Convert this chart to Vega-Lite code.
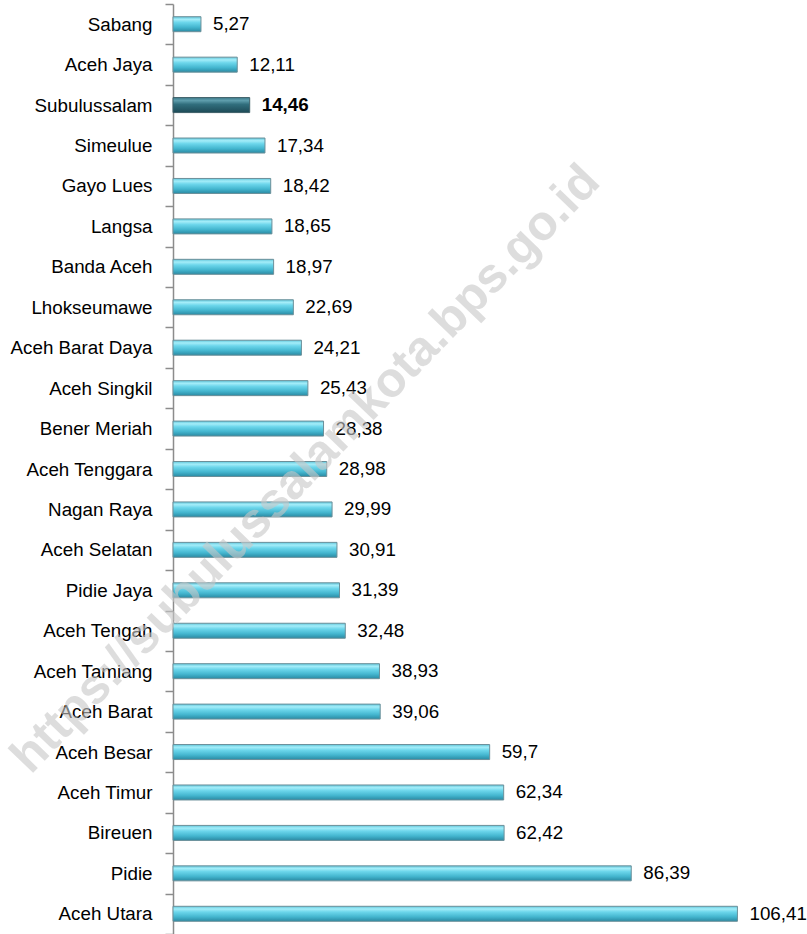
{
  "$schema": "https://vega.github.io/schema/vega-lite/v6.json",
  "width": 610,
  "height": 930,
  "autosize": {"type": "none"},
  "padding": {"left": 173, "top": 4, "right": 24, "bottom": 0},
  "background": "white",
  "config": {
    "view": {"stroke": null},
    "font": "Liberation Sans",
    "locale": {"number": {"decimal": ",", "thousands": ".", "grouping": [3], "currency": ["", ""]}}
  },
  "data": {
    "values": [
      {"wilayah": "Sabang", "nilai": 5.27},
      {"wilayah": "Aceh Jaya", "nilai": 12.11},
      {"wilayah": "Subulussalam", "nilai": 14.46},
      {"wilayah": "Simeulue", "nilai": 17.34},
      {"wilayah": "Gayo Lues", "nilai": 18.42},
      {"wilayah": "Langsa", "nilai": 18.65},
      {"wilayah": "Banda Aceh", "nilai": 18.97},
      {"wilayah": "Lhokseumawe", "nilai": 22.69},
      {"wilayah": "Aceh Barat Daya", "nilai": 24.21},
      {"wilayah": "Aceh Singkil", "nilai": 25.43},
      {"wilayah": "Bener Meriah", "nilai": 28.38},
      {"wilayah": "Aceh Tenggara", "nilai": 28.98},
      {"wilayah": "Nagan Raya", "nilai": 29.99},
      {"wilayah": "Aceh Selatan", "nilai": 30.91},
      {"wilayah": "Pidie Jaya", "nilai": 31.39},
      {"wilayah": "Aceh Tengah", "nilai": 32.48},
      {"wilayah": "Aceh Tamiang", "nilai": 38.93},
      {"wilayah": "Aceh Barat", "nilai": 39.06},
      {"wilayah": "Aceh Besar", "nilai": 59.7},
      {"wilayah": "Aceh Timur", "nilai": 62.34},
      {"wilayah": "Bireuen", "nilai": 62.42},
      {"wilayah": "Pidie", "nilai": 86.39},
      {"wilayah": "Aceh Utara", "nilai": 106.41}
    ]
  },
  "encoding": {
    "y": {
      "field": "wilayah",
      "type": "nominal",
      "sort": ["Sabang", "Aceh Jaya", "Subulussalam", "Simeulue", "Gayo Lues", "Langsa", "Banda Aceh", "Lhokseumawe", "Aceh Barat Daya", "Aceh Singkil", "Bener Meriah", "Aceh Tenggara", "Nagan Raya", "Aceh Selatan", "Pidie Jaya", "Aceh Tengah", "Aceh Tamiang", "Aceh Barat", "Aceh Besar", "Aceh Timur", "Bireuen", "Pidie", "Aceh Utara"],
      "scale": {"paddingInner": 0, "paddingOuter": 0},
      "axis": {
        "title": null,
        "labelFontSize": 18.8,
        "labelFont": "Liberation Sans",
        "labelColor": "#000000",
        "labelPadding": 13,
        "labelLimit": 300,
        "tickSize": 8,
        "tickColor": "#8c8c8c",
        "tickWidth": 1.5,
        "domainColor": "#8c8c8c",
        "domainWidth": 1.5,
        "tickBand": "extent",
        "grid": false
      }
    },
    "x": {
      "field": "nilai",
      "type": "quantitative",
      "scale": {"domain": [0, 115], "nice": false},
      "axis": null
    }
  },
  "layer": [
    {
      "transform": [{"filter": "datum.wilayah !== 'Subulussalam'"}],
      "mark": {
        "type": "bar",
        "size": 15,
        "stroke": "#6b8f99",
        "strokeWidth": 1,
        "color": {
          "gradient": "linear",
          "x1": 0, "y1": 0, "x2": 0, "y2": 1,
          "stops": [
            {"offset": 0, "color": "#5fc6db"},
            {"offset": 0.18, "color": "#a4edf9"},
            {"offset": 0.38, "color": "#6cd6eb"},
            {"offset": 0.7, "color": "#44b6cf"},
            {"offset": 1, "color": "#2a8aa3"}
          ]
        }
      }
    },
    {
      "transform": [{"filter": "datum.wilayah === 'Subulussalam'"}],
      "mark": {
        "type": "bar",
        "size": 15,
        "stroke": "#3d5f68",
        "strokeWidth": 1,
        "color": {
          "gradient": "linear",
          "x1": 0, "y1": 0, "x2": 0, "y2": 1,
          "stops": [
            {"offset": 0, "color": "#3f7f8f"},
            {"offset": 0.2, "color": "#5e9dac"},
            {"offset": 0.45, "color": "#316e7d"},
            {"offset": 1, "color": "#1d4a56"}
          ]
        }
      }
    },
    {
      "transform": [{"filter": "datum.wilayah !== 'Subulussalam'"}],
      "mark": {"type": "text", "align": "left", "baseline": "middle", "dx": 12, "fontSize": 18.8, "font": "Liberation Sans", "color": "#000000"},
      "encoding": {
        "text": {"field": "nilai", "type": "quantitative", "format": ".2~f"}
      }
    },
    {
      "transform": [{"filter": "datum.wilayah === 'Subulussalam'"}],
      "mark": {"type": "text", "align": "left", "baseline": "middle", "dx": 12, "fontSize": 18.8, "fontWeight": "bold", "font": "Liberation Sans", "color": "#000000"},
      "encoding": {
        "text": {"field": "nilai", "type": "quantitative", "format": ".2~f"}
      }
    },
    {
      "data": {"values": [{"teks": "https://subulussalamkota.bps.go.id", "nilai": 25, "wilayah": "Aceh Tenggara"}]},
      "mark": {"type": "text", "align": "center", "baseline": "middle", "angle": -46, "fontSize": 49, "fontWeight": "bold", "font": "Liberation Sans", "color": "#c8c8c8", "opacity": 0.6},
      "encoding": {
        "text": {"field": "teks", "type": "nominal"}
      }
    }
  ]
}
